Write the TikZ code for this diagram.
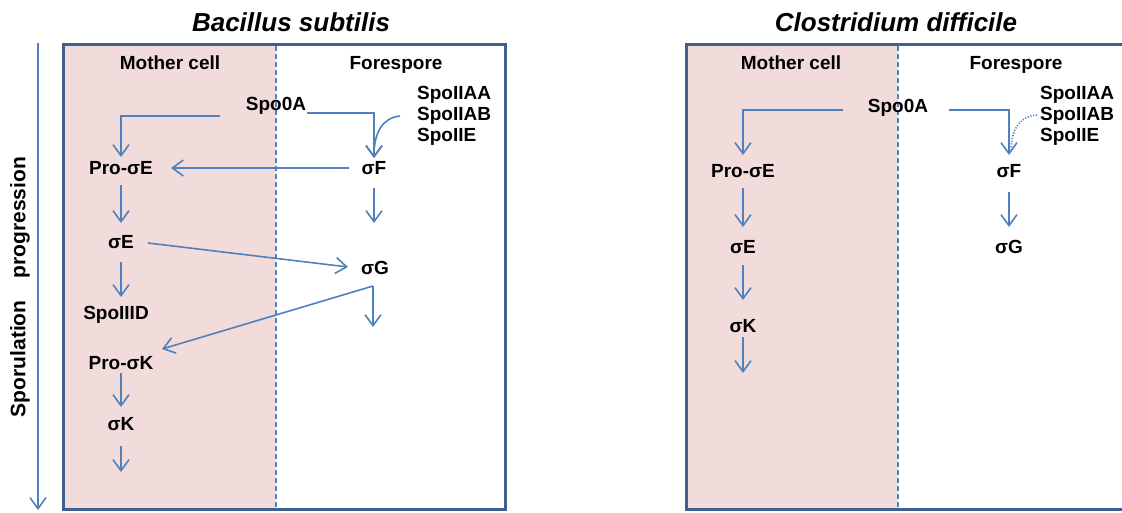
\documentclass[tikz,border=0pt]{standalone}
\usepackage{fontspec}
\setmainfont{Liberation Sans}
\usetikzlibrary{arrows.meta,calc}
\definecolor{arrowblue}{RGB}{79,129,189}
\definecolor{frameblue}{RGB}{62,96,142}
\definecolor{pinkfill}{RGB}{242,220,219}
\begin{document}
\begin{tikzpicture}[x=1pt,y=-1pt,
  lbl/.style={font=\fontsize{19}{22}\selectfont\bfseries, inner sep=0pt, text height=13.6pt, text depth=0pt},
  ttl/.style={font=\fontsize{26}{30}\selectfont\bfseries\itshape, inner sep=0pt},
  side/.style={font=\fontsize{21}{25}\selectfont\bfseries, inner sep=0pt},
  arr/.style={draw=arrowblue, line width=1.6pt, -{Straight Barb[length=11pt,width=16pt]}},
  link/.style={draw=arrowblue, line width=1.6pt},
  dotlink/.style={draw=arrowblue, line width=1.6pt, dash pattern=on 1.2pt off 1.6pt},
  frame/.style={draw=frameblue, line width=3pt},
  divider/.style={draw=arrowblue, line width=1.2pt, dash pattern=on 5pt off 3pt}]

\useasboundingbox (0,0) rectangle (1122,512);

% ---------- backgrounds and frames ----------
\fill[pinkfill] (63,44) rectangle (276,509);
\fill[pinkfill] (686,44) rectangle (898,509);
\draw[divider] (276,46) -- (276,508);
\draw[divider] (898,46) -- (898,508);
\draw[frame] (63,44) rectangle (505,509);
\draw[frame] (686,44) rectangle (1140,509);

% ---------- progression arrow ----------
\coordinate (progtop) at (38,43);
\coordinate (progbot) at (38,510);
\draw[arr] (progtop) -- (progbot);
\node[side, rotate=90] (prog) at (20,287) {Sporulation\hspace{22pt}progression};

% ---------- left panel: Bacillus subtilis ----------
\node[ttl] (Ltitle) at (291,22) {Bacillus subtilis};
\node[lbl] (Lmc) at (170,63) {Mother cell};
\node[lbl] (Lfs) at (396,63) {Forespore};
\node[lbl] (Lspo) at (276,104) {Spo0A};
\node[lbl, anchor=west] (Laa) at (417,93) {SpoIIAA};
\node[lbl, anchor=west] (Lab) at (417,114) {SpoIIAB};
\node[lbl, anchor=west] (Le) at (417,135) {SpoIIE};
\node[lbl] (LproE) at (121,168) {Pro-σE};
\node[lbl] (LsF) at (374,168) {σF};
\node[lbl] (LsE) at (121,242) {σE};
\node[lbl] (LsG) at (375,268) {σG};
\node[lbl] (LD) at (116,313) {SpoIIID};
\node[lbl] (LproK) at (121,363) {Pro-σK};
\node[lbl] (LsK) at (121,424) {σK};

\draw[arr] ($(Lspo)+(-56,12)$) -| ($(LproE)+(0,-11)$);
\draw[arr] ($(Lspo)+(31,9)$) -| ($(LsF)+(0,-10)$);
\draw[arr] ($(Lab.west)+(-17,2)$) .. controls ($(LsF)+(8,-50)$) and ($(LsF)+(0,-35)$) .. ($(LsF)+(0,-10)$);
\draw[arr] ($(LsF)+(-25,0)$) -- ($(LproE)+(50,0)$);
\draw[arr] ($(LproE)+(0,17)$) -- ($(LsE)+(0,-19)$);
\draw[arr] ($(LsF)+(0,20)$) -- ($(LsF)+(0,55)$);
\draw[arr] ($(LsE)+(27,1)$) -- ($(LsG)+(-27,-1)$);
\draw[arr] ($(LsE)+(0,20)$) -- ($(LD)+(5,-16)$);
\coordinate (Lgb) at ($(LsG)+(-2,18)$);
\draw[arr] (Lgb) -- ($(LsG)+(-2,59)$);
\draw[arr] (Lgb) -- ($(LproK)+(41,-14)$);
\draw[arr] ($(LproK)+(0,10)$) -- ($(LsK)+(0,-17)$);
\draw[arr] ($(LsK)+(0,22)$) -- ($(LsK)+(0,48)$);

% ---------- right panel: Clostridium difficile ----------
\node[ttl] (Rtitle) at (896,22) {Clostridium difficile};
\node[lbl] (Rmc) at (791,63) {Mother cell};
\node[lbl] (Rfs) at (1016,63) {Forespore};
\node[lbl] (Rspo) at (898,106) {Spo0A};
\node[lbl, anchor=west] (Raa) at (1040,93) {SpoIIAA};
\node[lbl, anchor=west] (Rab) at (1040,114) {SpoIIAB};
\node[lbl, anchor=west] (Re) at (1040,135) {SpoIIE};
\node[lbl] (RproE) at (743,171) {Pro-σE};
\node[lbl] (RsE) at (743,247) {σE};
\node[lbl] (RsK) at (743,326) {σK};
\node[lbl] (RsF) at (1009,171) {σF};
\node[lbl] (RsG) at (1009,247) {σG};

\draw[arr] ($(Rspo)+(-55,4)$) -| ($(RproE)+(0,-16)$);
\draw[arr] ($(Rspo)+(51,4)$) -| ($(RsF)+(0,-16)$);
\draw[dotlink] ($(Rab.west)+(-3,1)$) .. controls ($(RsF)+(12,-55)$) and ($(RsF)+(3,-44)$) .. ($(RsF)+(2,-22)$);
\draw[arr] ($(RproE)+(0,17)$) -- ($(RsE)+(0,-20)$);
\draw[arr] ($(RsE)+(0,18)$) -- ($(RsK)+(0,-26)$);
\draw[arr] ($(RsK)+(0,11)$) -- ($(RsK)+(0,47)$);
\draw[arr] ($(RsF)+(0,21)$) -- ($(RsG)+(0,-20)$);
\end{tikzpicture}
\end{document}
